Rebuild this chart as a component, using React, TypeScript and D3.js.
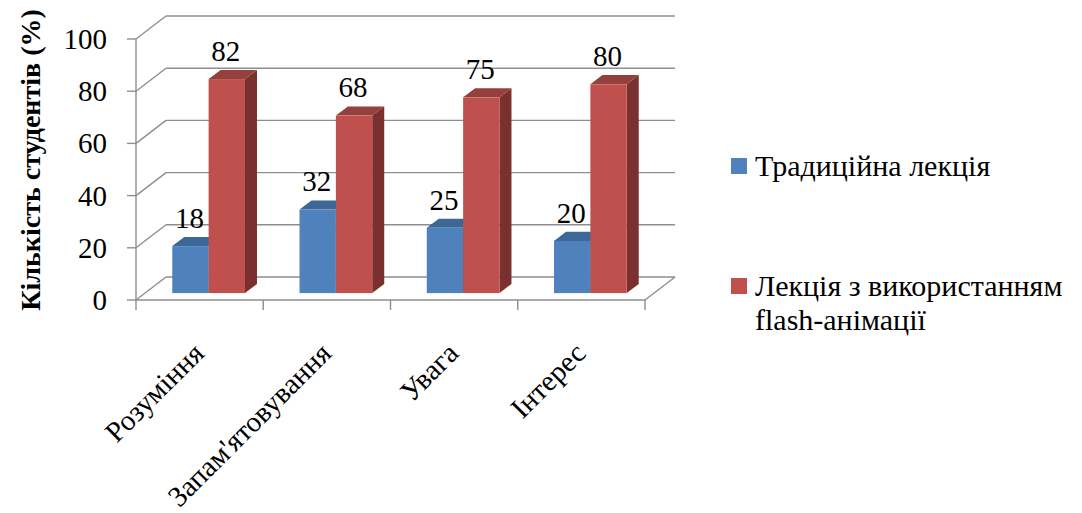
import React from "react";
import * as d3 from "d3";

const categories = ["Розуміння", "Запам'ятовування", "Увага", "Інтерес"];
const traditional = [18, 32, 25, 20];
const flashAnim = [82, 68, 75, 80];
const seriesNames = ["Традиційна лекція", "Лекція з використанням flash-анімації"];
const yTicks = [0, 20, 40, 60, 80, 100];

const W = 1082;
const H = 513;
const DX = 30;
const DY = -23;
const FONT = "'Times New Roman', serif";
const GRID = "#8e8e8e";

const colors = [
  { front: "#4F81BD", top: "#3D6796", side: "#2F5580" },
  { front: "#C0504D", top: "#94403D", side: "#7A302E" },
];

const tStyle = (size: number, bold = false): React.CSSProperties => ({
  fontFamily: FONT,
  fontSize: size,
  fontWeight: bold ? "bold" : "normal",
  fill: "#000",
});

export default function App() {
  const x = d3.scaleBand<string>().domain(categories).range([136, 645]);
  const y = d3.scaleLinear().domain([0, 100]).range([300, 39]);
  const inner = d3
    .scaleBand<number>()
    .domain([0, 1])
    .range([0, x.bandwidth()])
    .paddingInner(0)
    .paddingOuter(0.75);
  const series = [traditional, flashAnim];
  const d0 = 0.3;
  const d1 = 0.7;
  const bw = inner.bandwidth();

  const bars: React.ReactNode[] = [];
  categories.forEach((c, ci) => {
    series.forEach((s, si) => {
      const v = s[ci];
      const xl = (x(c) as number) + (inner(si) as number) + d0 * DX;
      const xr = xl + bw;
      const yt = y(v) + d0 * DY;
      const yb = y(0) + d0 * DY;
      const ox = (d1 - d0) * DX;
      const oy = (d1 - d0) * DY;
      const col = colors[si];
      bars.push(
        <g key={`b-${ci}-${si}`}>
          <polygon
            points={`${xr},${yt} ${xr + ox},${yt + oy} ${xr + ox},${yb + oy} ${xr},${yb}`}
            fill={col.side}
          />
          <polygon
            points={`${xl},${yt} ${xr},${yt} ${xr + ox},${yt + oy} ${xl + ox},${yt + oy}`}
            fill={col.top}
          />
          <rect x={xl} y={yt} width={bw} height={yb - yt} fill={col.front} />
          <text x={(xl + xr) / 2 - 1} y={yt + oy - 9} textAnchor="middle" style={tStyle(29)}>
            {v}
          </text>
        </g>
      );
    });
  });

  const x0 = 136;
  const x1 = 645;

  return (
    <svg width={W} height={H} style={{ position: "absolute", left: 0, top: 0, background: "#fff" }}>
      <rect width={W} height={H} fill="#fff" />
      {yTicks.map((t) => (
        <g key={`g-${t}`}>
          <line x1={x0} y1={y(t)} x2={x0 + DX} y2={y(t) + DY} stroke={GRID} strokeWidth={1.4} />
          <line x1={x0 + DX} y1={y(t) + DY} x2={x1 + DX} y2={y(t) + DY} stroke={GRID} strokeWidth={1.4} />
          <line x1={x0 - 9} y1={y(t)} x2={x0} y2={y(t)} stroke={GRID} strokeWidth={1.4} />
          <text x={107} y={y(t) + 10} textAnchor="end" style={tStyle(29)}>
            {t}
          </text>
        </g>
      ))}
      <line x1={x0} y1={y(100)} x2={x0} y2={y(0)} stroke={GRID} strokeWidth={1.4} />
      <line x1={x0} y1={y(0)} x2={x1} y2={y(0)} stroke={GRID} strokeWidth={1.4} />
      <line x1={x1} y1={y(0)} x2={x1 + DX} y2={y(0) + DY} stroke={GRID} strokeWidth={1.4} />
      {[...categories.map((c) => x(c) as number), x1].map((xx, i) => (
        <line key={`t-${i}`} x1={xx} y1={y(0)} x2={xx} y2={y(0) + 10} stroke={GRID} strokeWidth={1.4} />
      ))}
      {bars}
      {categories.map((c) => {
        const cx = (x(c) as number) + x.bandwidth() / 2;
        return (
          <text
            key={`c-${c}`}
            transform={`translate(${cx + 6},${355}) rotate(-45)`}
            textAnchor="end"
            style={tStyle(29)}
          >
            {c}
          </text>
        );
      })}
      <text transform={`translate(40,160) rotate(-90)`} textAnchor="middle" style={tStyle(28, true)}>
        Кількість студентів (%)
      </text>
      <rect x={731} y={158} width={16} height={16} fill={colors[0].front} />
      <text x={755} y={176} style={tStyle(30)}>
        {seriesNames[0]}
      </text>
      <rect x={731} y={278} width={16} height={16} fill={colors[1].front} />
      <text x={755} y={296} style={tStyle(30)}>
        <tspan x={755}>Лекція з використанням</tspan>
        <tspan x={755} dy={34}>flash-анімації</tspan>
      </text>
    </svg>
  );
}
